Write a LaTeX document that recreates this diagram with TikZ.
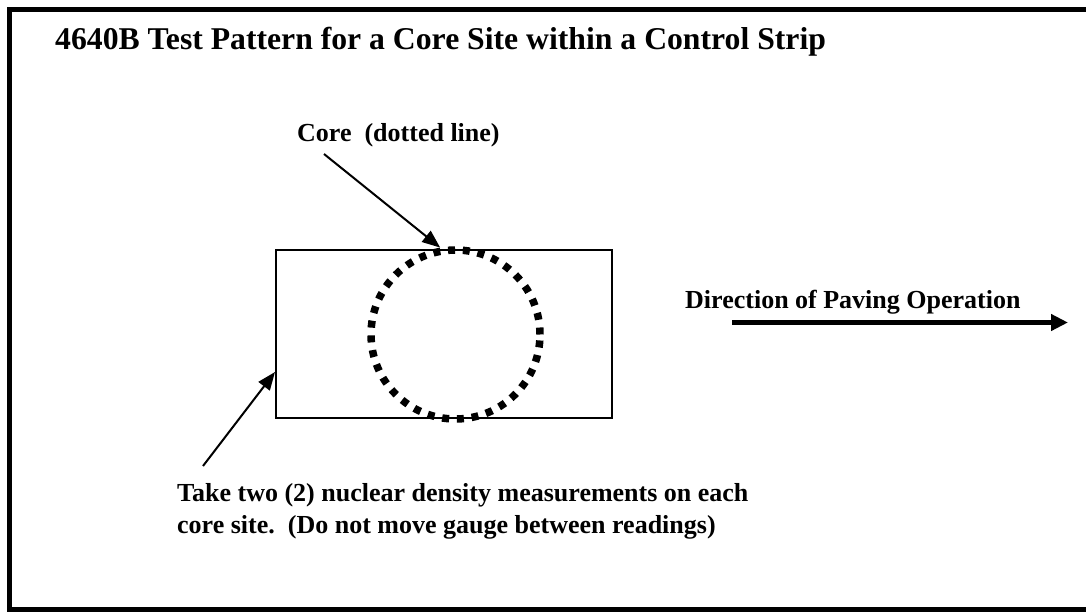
\documentclass[tikz,border=0pt]{standalone}
\usepackage{fontspec}
\setmainfont{Liberation Serif}
\usetikzlibrary{arrows.meta}
\begin{document}
\begin{tikzpicture}[x=1pt,y=-1pt,
  lbl/.style={font=\bfseries\fontsize{26}{32}\selectfont, inner sep=0pt, anchor=base west, align=left},
  ttl/.style={font=\bfseries\fontsize{31.7}{38}\selectfont, inner sep=0pt, anchor=base west},
  ptr/.style={line width=2pt, -{Triangle[length=18pt,width=14pt]}},
  bigptr/.style={line width=5pt, -{Triangle[length=17pt,width=16pt]}},
  frame/.style={line width=5pt},
]
\useasboundingbox (0,0) rectangle (1086,613);
\draw[frame] (1100,9) -- (9.5,9) -- (9.5,609.5) -- (1100,609.5);

\node[ttl] (title) at (55,49) {4640B Test Pattern for a Core Site within a Control Strip};
\node[lbl] (core) at (297,141) {Core\ \ (dotted line)};

\node[draw, line width=2pt, minimum width=336pt, minimum height=168pt, inner sep=0pt] (site) at (444,334) {};
\node[circle, draw, line width=7.5pt, dash pattern=on 7pt off 7.8pt, minimum size=169pt, inner sep=0pt] (coreC) at (455.5,334.5) {};

\coordinate (c1) at (324,154);
\draw[ptr] (c1) -- (coreC.100);

\coordinate (c2) at (203,466);
\draw[ptr] (c2) -- ([yshift=-38pt]site.west);

\node[lbl] (dir) at (685,308) {Direction of Paving Operation};
\coordinate (d0) at (732,322.5);
\coordinate (d1) at (1068,322.5);
\draw[bigptr] (d0) -- (d1);

\node[lbl] (note) at (177,533) {Take two (2) nuclear density measurements on each\\core site.\ \ (Do not move gauge between readings)};
\end{tikzpicture}
\end{document}
